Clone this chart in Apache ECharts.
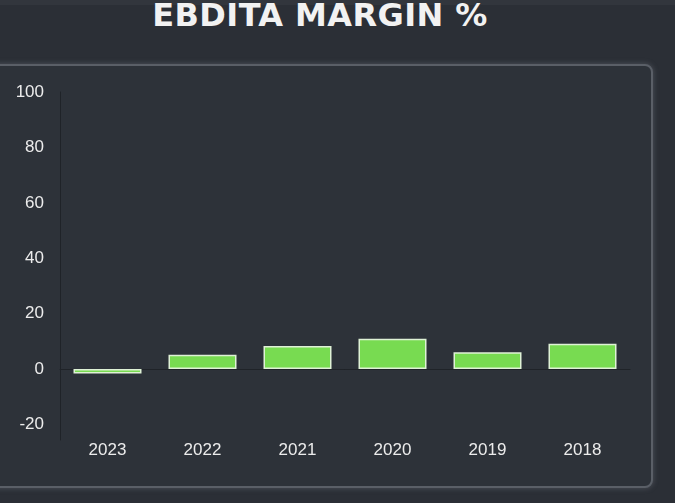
<!DOCTYPE html>
<html><head><meta charset="utf-8">
<script src="https://cdn.jsdelivr.net/npm/echarts@6/dist/echarts.min.js"></script>
<style>
html,body{margin:0;padding:0;width:675px;height:503px;overflow:hidden;background:#2b2f36;}
#topband{position:absolute;left:0;top:0;width:675px;height:5px;background:#32363d;}
#panel{position:absolute;left:-12px;top:64px;width:661px;height:420px;border:2px solid #5a5f67;border-radius:8px;background:#2d3239;box-shadow:0 0 5px 1px rgba(120,125,135,0.35);}
#title{position:absolute;left:0;top:-5px;width:640px;text-align:center;font-family:"DejaVu Sans",sans-serif;font-weight:bold;font-size:32px;line-height:40px;color:#f2f2f2;letter-spacing:0.4px;}
#chart{position:absolute;left:0;top:0;width:675px;height:503px;}
</style></head>
<body>
<div id="topband"></div>
<div id="panel"></div>
<div id="title">EBDITA MARGIN %</div>
<div id="chart"></div>
<script>
const categories = ["2023","2022","2021","2020","2019","2018"];
const margins = [-1.6, 5.2, 8.3, 10.9, 6.1, 9.1];
const yTicks = [-20, 0, 20, 40, 60, 80, 100];

const chart = echarts.init(document.getElementById('chart'), null, {renderer:'canvas'});
chart.setOption({
  backgroundColor: 'transparent',
  animation: false,
  grid: {left: 60, right: 45, top: 92, bottom: 63},
  xAxis: {
    type: 'category',
    data: categories,
    axisLine: {onZero: true, lineStyle: {color: '#1f2328', width: 1}},
    axisTick: {show: false},
    axisLabel: {color: '#ececec', fontSize: 17, fontFamily: 'Liberation Sans, Arial, sans-serif', margin: 2},
    splitLine: {show: false}
  },
  yAxis: {
    type: 'value',
    min: -25.6,
    max: 100,
    axisLine: {show: true, lineStyle: {color: '#1f2328', width: 1}},
    axisTick: {show: false},
    splitLine: {show: false},
    axisLabel: {color: '#ececec', fontSize: 17, fontFamily: 'Liberation Sans, Arial, sans-serif', margin: 16, customValues: yTicks}
  },
  series: [{
    type: 'bar',
    data: margins,
    barWidth: 68,
    itemStyle: {color: '#78db51', borderColor: '#dff2d6', borderWidth: 1.5}
  }]
});
</script>
</body></html>
